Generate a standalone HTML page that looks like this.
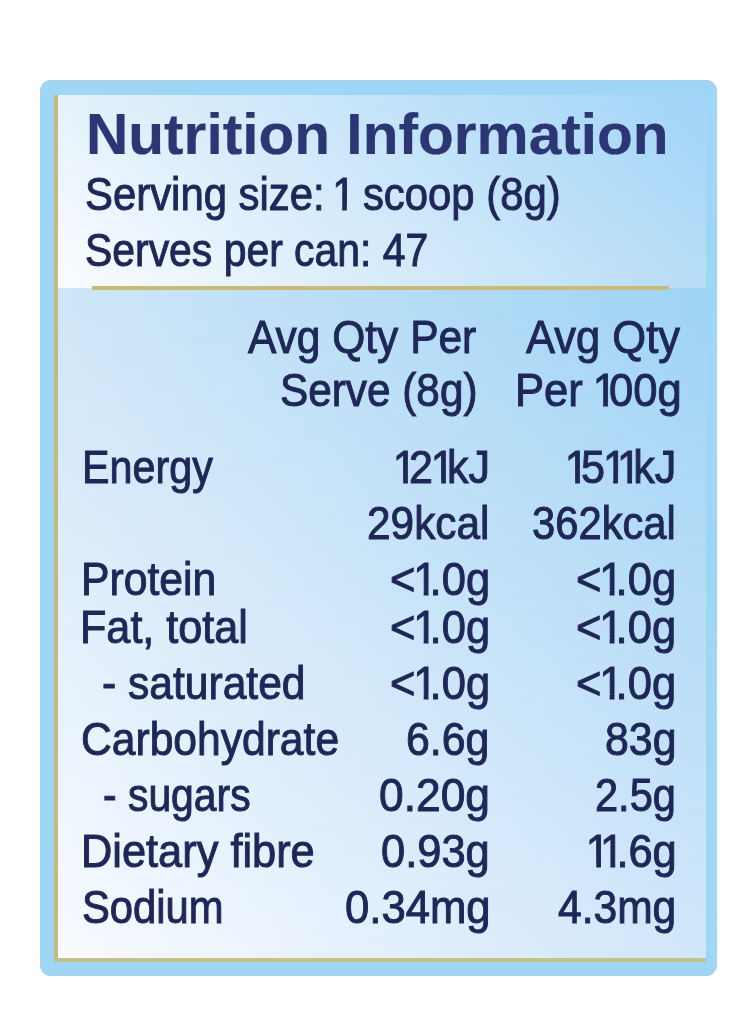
<!DOCTYPE html><html><head><meta charset="utf-8"><style>
html,body{margin:0;padding:0;}
body{width:755px;height:1024px;position:relative;overflow:hidden;background:#fff;font-family:"Liberation Sans",sans-serif;}
.a{position:absolute;}
.outer{left:40px;top:80px;width:677px;height:896px;border-radius:11px;background:#9fd5f5;}
.edge{left:41px;top:80px;width:675px;height:896px;border-radius:11px;box-shadow:inset 0 1px 0 #a9cfe2,inset 0 -1px 0 #a9cfe2;}
.goldv{left:54px;top:95px;width:4px;height:867px;background:#c4b97e;}
.goldh{left:54px;top:958px;width:652px;height:4px;background:#c6c08a;}
.hdr{left:58px;top:95px;width:648px;height:193px;background:linear-gradient(to right,#e5f2fb 7px,#a2d5f8 637px);}
.hdr::after{content:"";position:absolute;left:0;top:0;right:0;bottom:0;background:linear-gradient(to right,#f9fbff 7px,#b8ddf6 637px);-webkit-mask-image:linear-gradient(to bottom,transparent 6px,#000 182px);}
.tbl{left:58px;top:288px;width:648px;height:670px;background:linear-gradient(to right,#cfe6f8 7px,#a0d4f5 637px);}
.tbl::after{content:"";position:absolute;left:0;top:0;right:0;bottom:0;background:linear-gradient(to right,#f8faff 7px,#d0e6fa 637px);-webkit-mask-image:linear-gradient(to bottom,transparent 11px,#000 661px);}
.gold{left:92px;top:286px;width:577px;height:4px;background:#c9b97a;}
.t{position:absolute;white-space:nowrap;transform-origin:0 0;color:#1e2757;line-height:1;}
.title{font-size:57.0px;font-weight:bold;color:#2c3674;-webkit-text-stroke:0.2px #2c3674;}
.one{display:inline-block;margin-left:-0.05em;margin-right:-0.18em;clip-path:polygon(0 0,100% 0,100% 0.748em,0.3495em 0.748em,0.3495em 100%,0.2405em 100%,0.2405em 0.748em,0 0.748em);}
.one.sp{margin-left:-0.1em;margin-right:-0.1em;}
.body{font-size:47.0px;-webkit-text-stroke:1.0px #1e2757;}
</style></head><body><div class="a outer"></div><div class="a edge"></div><div class="a goldv"></div><div class="a goldh"></div><div class="a hdr"></div><div class="a tbl"></div><div class="a gold"></div><div class="t title" id="t0" style="left:86.22px;top:105.50px;transform:scaleX(1.0280)">Nutrition Information</div><div class="t body" id="t1" style="left:85.22px;top:169.85px;transform:scaleX(0.8908)">Serving size: <span class="one sp">1</span> scoop (8g)</div><div class="t body" id="t2" style="left:85.42px;top:225.94px;transform:scaleX(0.8701)">Serves per can: 47</div><div class="t body" id="h1" style="left:248.30px;top:313.44px;transform:scaleX(0.9040)">Avg Qty Per</div><div class="t body" id="h2" style="left:279.79px;top:365.94px;transform:scaleX(0.9002)">Serve (8g)</div><div class="t body" id="h3" style="left:526.31px;top:313.44px;transform:scaleX(0.9261)">Avg Qty</div><div class="t body" id="h4" style="left:515.05px;top:366.05px;transform:scaleX(0.9264)">Per <span class="one">1</span>00g</div><div class="t body" id="r0" style="left:81.51px;top:442.64px;transform:scaleX(0.8781)">Energy</div><div class="t body" id="v0a" style="left:395.25px;top:442.64px;transform:scaleX(0.9164)"><span class="one">1</span>2<span class="one">1</span>kJ</div><div class="t body" id="v0b" style="left:566.78px;top:442.64px;transform:scaleX(0.9170)"><span class="one">1</span>5<span class="one">1</span><span class="one">1</span>kJ</div><div class="t body" id="v1a" style="left:366.99px;top:498.73px;transform:scaleX(0.9017)">29kcal</div><div class="t body" id="v1b" style="left:531.80px;top:498.73px;transform:scaleX(0.8880)">362kcal</div><div class="t body" id="r2" style="left:80.78px;top:554.94px;transform:scaleX(0.9085)">Protein</div><div class="t body" id="v2a" style="left:389.62px;top:554.94px;transform:scaleX(0.9258)">&lt;<span class="one">1</span>.0g</div><div class="t body" id="v2b" style="left:575.86px;top:554.94px;transform:scaleX(0.9257)">&lt;<span class="one">1</span>.0g</div><div class="t body" id="r3" style="left:80.28px;top:603.05px;transform:scaleX(0.9185)">Fat, total</div><div class="t body" id="v3a" style="left:389.62px;top:603.05px;transform:scaleX(0.9258)">&lt;<span class="one">1</span>.0g</div><div class="t body" id="v3b" style="left:575.86px;top:603.05px;transform:scaleX(0.9257)">&lt;<span class="one">1</span>.0g</div><div class="t body" id="r4" style="left:102.36px;top:658.73px;transform:scaleX(0.9058)">- saturated</div><div class="t body" id="v4a" style="left:389.62px;top:658.73px;transform:scaleX(0.9258)">&lt;<span class="one">1</span>.0g</div><div class="t body" id="v4b" style="left:575.86px;top:658.73px;transform:scaleX(0.9257)">&lt;<span class="one">1</span>.0g</div><div class="t body" id="r5" style="left:81.30px;top:714.94px;transform:scaleX(0.9062)">Carbohydrate</div><div class="t body" id="v5a" style="left:406.19px;top:714.94px;transform:scaleX(0.9117)">6.6g</div><div class="t body" id="v5b" style="left:604.97px;top:714.94px;transform:scaleX(0.9111)">83g</div><div class="t body" id="r6" style="left:103.17px;top:771.05px;transform:scaleX(0.8694)">- sugars</div><div class="t body" id="v6a" style="left:379.49px;top:771.05px;transform:scaleX(0.9433)">0.20g</div><div class="t body" id="v6b" style="left:595.39px;top:771.05px;transform:scaleX(0.8843)">2.5g</div><div class="t body" id="r7" style="left:81.09px;top:827.23px;transform:scaleX(0.9225)">Dietary fibre</div><div class="t body" id="v7a" style="left:380.89px;top:827.23px;transform:scaleX(0.9244)">0.93g</div><div class="t body" id="v7b" style="left:587.65px;top:827.23px;transform:scaleX(0.9247)"><span class="one">1</span><span class="one">1</span>.6g</div><div class="t body" id="r8" style="left:81.62px;top:883.23px;transform:scaleX(0.8887)">Sodium</div><div class="t body" id="v8a" style="left:344.79px;top:883.23px;transform:scaleX(0.9290)">0.34mg</div><div class="t body" id="v8b" style="left:558.13px;top:883.23px;transform:scaleX(0.9054)">4.3mg</div></body></html>
